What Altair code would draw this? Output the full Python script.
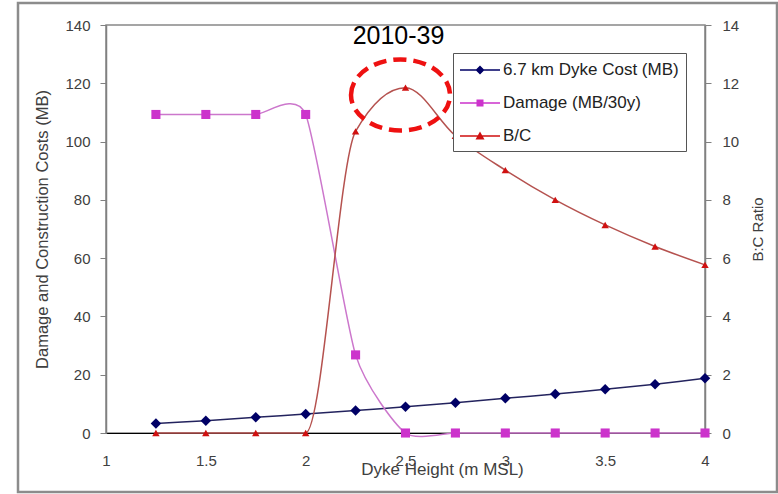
import altair as alt
import pandas as pd

# ---------------- data ----------------
heights = [1.25, 1.5, 1.75, 2.0, 2.25, 2.5, 2.75, 3.0, 3.25, 3.5, 3.75, 4.0]
dyke_cost = [3.3, 4.2, 5.4, 6.5, 7.7, 9.0, 10.4, 11.9, 13.4, 15.0, 16.7, 18.8]
damage = [109.3, 109.3, 109.3, 109.3, 26.8, 0, 0, 0, 0, 0, 0, 0]
bc_ratio = [0, 0, 0, 0, 10.35, 11.85, 10.2, 9.02, 8.0, 7.14, 6.4, 5.77]

series_names = ["6.7 km Dyke Cost (MB)", "Damage (MB/30y)", "B/C"]
x_ticks = [1, 1.5, 2, 2.5, 3, 3.5, 4]
left_ticks = [0, 20, 40, 60, 80, 100, 120, 140]
right_ticks = [0, 2, 4, 6, 8, 10, 12, 14]
highlight_x = [2.475]
highlight_y = [116]

line_colors = ["#23235E", "#CC77CC", "#B5524F"]
point_colors = ["#000066", "#CC33CC", "#D01010"]
point_shapes = ["diamond", "square", "triangle-up"]
point_sizes = [110, 55, 100]

FONT = "Liberation Sans"
TXT = "#404040"

# ---------------- tables ----------------
left_df = pd.DataFrame({
    "height": heights * 2,
    "value": dyke_cost + damage,
    "series": [series_names[0]] * len(heights) + [series_names[1]] * len(heights),
})
right_df = pd.DataFrame({
    "height": heights,
    "value": bc_ratio,
    "series": [series_names[2]] * len(heights),
})
legend_df = pd.DataFrame({"series": series_names})
ellipse_df = pd.DataFrame({"height": highlight_x, "value": highlight_y})
frame_df = pd.DataFrame({"k": [1]})

# ---------------- encodings ----------------
x_enc = alt.X(
    "height:Q",
    scale=alt.Scale(domain=[1, 4], nice=False, zero=False),
    axis=alt.Axis(
        values=x_ticks, format="~g", tickSize=0, labelPadding=20, labelFlush=False,
        domainColor="black", domainWidth=1.2, grid=False,
        title="Dyke Height (m MSL)", titleX=336, titleY=41, titleBaseline="alphabetic",
        titleFontWeight="normal", titleFontSize=17, titleColor=TXT, titleFont=FONT,
        labelFontSize=15, labelColor=TXT, labelFont=FONT,
    ),
)

left_scale = alt.Scale(domain=[0, 140], nice=False, zero=False)
right_scale = alt.Scale(domain=[0, 14], nice=False, zero=False)

left_axis = alt.Axis(
    orient="left", values=left_ticks, tickSize=6, labelPadding=10, labelFlush=False,
    domainColor="#808080", tickColor="#808080", domainWidth=1.5, grid=False,
    title="Damage and Construction Costs (MB)", titleX=-64, titleBaseline="middle",
    titleFontWeight="normal", titleFontSize=16.5, titleColor=TXT, titleFont=FONT,
    labelFontSize=15, labelColor=TXT, labelFont=FONT,
)
right_axis = alt.Axis(
    orient="right", values=right_ticks, tickSize=6, labelPadding=11, labelFlush=False,
    domainColor="#808080", tickColor="#808080", domainWidth=1.5, grid=False,
    title="B:C Ratio", titleAngle=270, titleX=52, titleBaseline="middle",
    titleFontWeight="normal", titleFontSize=15, titleColor=TXT, titleFont=FONT,
    labelFontSize=15, labelColor=TXT, labelFont=FONT,
)


def line_color():
    return alt.Color("series:N", scale=alt.Scale(domain=series_names, range=line_colors), legend=None)


def point_enc():
    return dict(
        color=alt.Color("series:N", scale=alt.Scale(domain=series_names, range=point_colors), legend=None),
        shape=alt.Shape("series:N", scale=alt.Scale(domain=series_names, range=point_shapes), legend=None),
        size=alt.Size("series:O", scale=alt.Scale(domain=series_names, range=point_sizes), legend=None),
    )


line_left = alt.Chart(left_df).mark_line(interpolate="cardinal", tension=0.4, strokeWidth=1.5).encode(
    x=x_enc, y=alt.Y("value:Q", scale=left_scale, axis=left_axis), color=line_color(),
    detail="series:N",
)
point_left = alt.Chart(left_df).mark_point(filled=True, opacity=1).encode(
    x=x_enc, y=alt.Y("value:Q", scale=left_scale, axis=None), **point_enc()
)
line_right = alt.Chart(right_df).mark_line(interpolate="monotone", strokeWidth=1.5).encode(
    x=x_enc, y=alt.Y("value:Q", scale=right_scale, axis=right_axis), color=line_color(),
)
point_right = alt.Chart(right_df).mark_point(filled=True, opacity=1).encode(
    x=x_enc, y=alt.Y("value:Q", scale=right_scale, axis=None), **point_enc()
)

# legend symbols: a short line with the marker on it
legend_paths = [
    "M-2,-0.08L2,-0.08L2,0.08L-2,0.08Z M0,-0.45L0.45,0L0,0.45L-0.45,0Z",
    "M-2,-0.08L2,-0.08L2,0.08L-2,0.08Z M-0.35,-0.35L0.35,-0.35L0.35,0.35L-0.35,0.35Z",
    "M-2,-0.08L2,-0.08L2,0.08L-2,0.08Z M0,-0.45L0.45,0.35L-0.45,0.35Z",
]
legend_props = dict(
    title=None, orient="none", legendX=347, legendY=28,
    fillColor="white", strokeColor="#555555", padding=7,
    symbolSize=400, symbolOffset=10, labelOffset=13, rowPadding=15,
    symbolStrokeWidth=0, labelFont=FONT, labelFontSize=17, labelColor="#222222",
    labelLimit=300,
)
legend_layer = alt.Chart(legend_df).mark_point(filled=True, opacity=1).encode(
    color=alt.Color("series:N", scale=alt.Scale(domain=series_names, range=point_colors),
                    legend=alt.Legend(**legend_props)),
    shape=alt.Shape("series:N", scale=alt.Scale(domain=series_names, range=legend_paths),
                    legend=alt.Legend(**legend_props)),
).transform_filter("false")

ellipse_path = ("M-1,0C-1,-0.3966 -0.5523,-0.718 0,-0.718C0.5523,-0.718 1,-0.3966 1,0"
                "C1,0.3966 0.5523,0.718 0,0.718C-0.5523,0.718 -1,0.3966 -1,0Z")
ellipse = alt.Chart(ellipse_df).mark_point(
    shape=ellipse_path, size=9801, filled=False, color="#EE1111", opacity=1,
    strokeWidth=4.5, strokeDash=[13, 7],
).encode(x=x_enc, y=alt.Y("value:Q", scale=left_scale, axis=None))

frame = alt.Chart(frame_df).mark_rect(fill=None, stroke="#8C8C8C", strokeWidth=2.5).encode(
    x=alt.value(-88), x2=alt.value(671), y=alt.value(-22), y2=alt.value(467)
)

chart = alt.layer(
    frame, line_left, line_right, point_left, point_right, ellipse, legend_layer
).resolve_scale(
    y="independent", color="independent", shape="independent", size="independent"
).properties(
    width=599, height=408,
    title=alt.TitleParams("2010-39", fontSize=25, font=FONT, fontWeight="normal",
                          color="black", anchor="middle", frame="group",
                          dx=-7, offset=-67, baseline="alphabetic"),
    autosize=alt.AutoSizeParams(type="none"),
    padding={"left": 106, "top": 25, "right": 73, "bottom": 61},
    background="white",
).configure_view(stroke="#888888", strokeWidth=1.5)

chart.save("out.html", embed_options={"renderer": "svg", "actions": False})
